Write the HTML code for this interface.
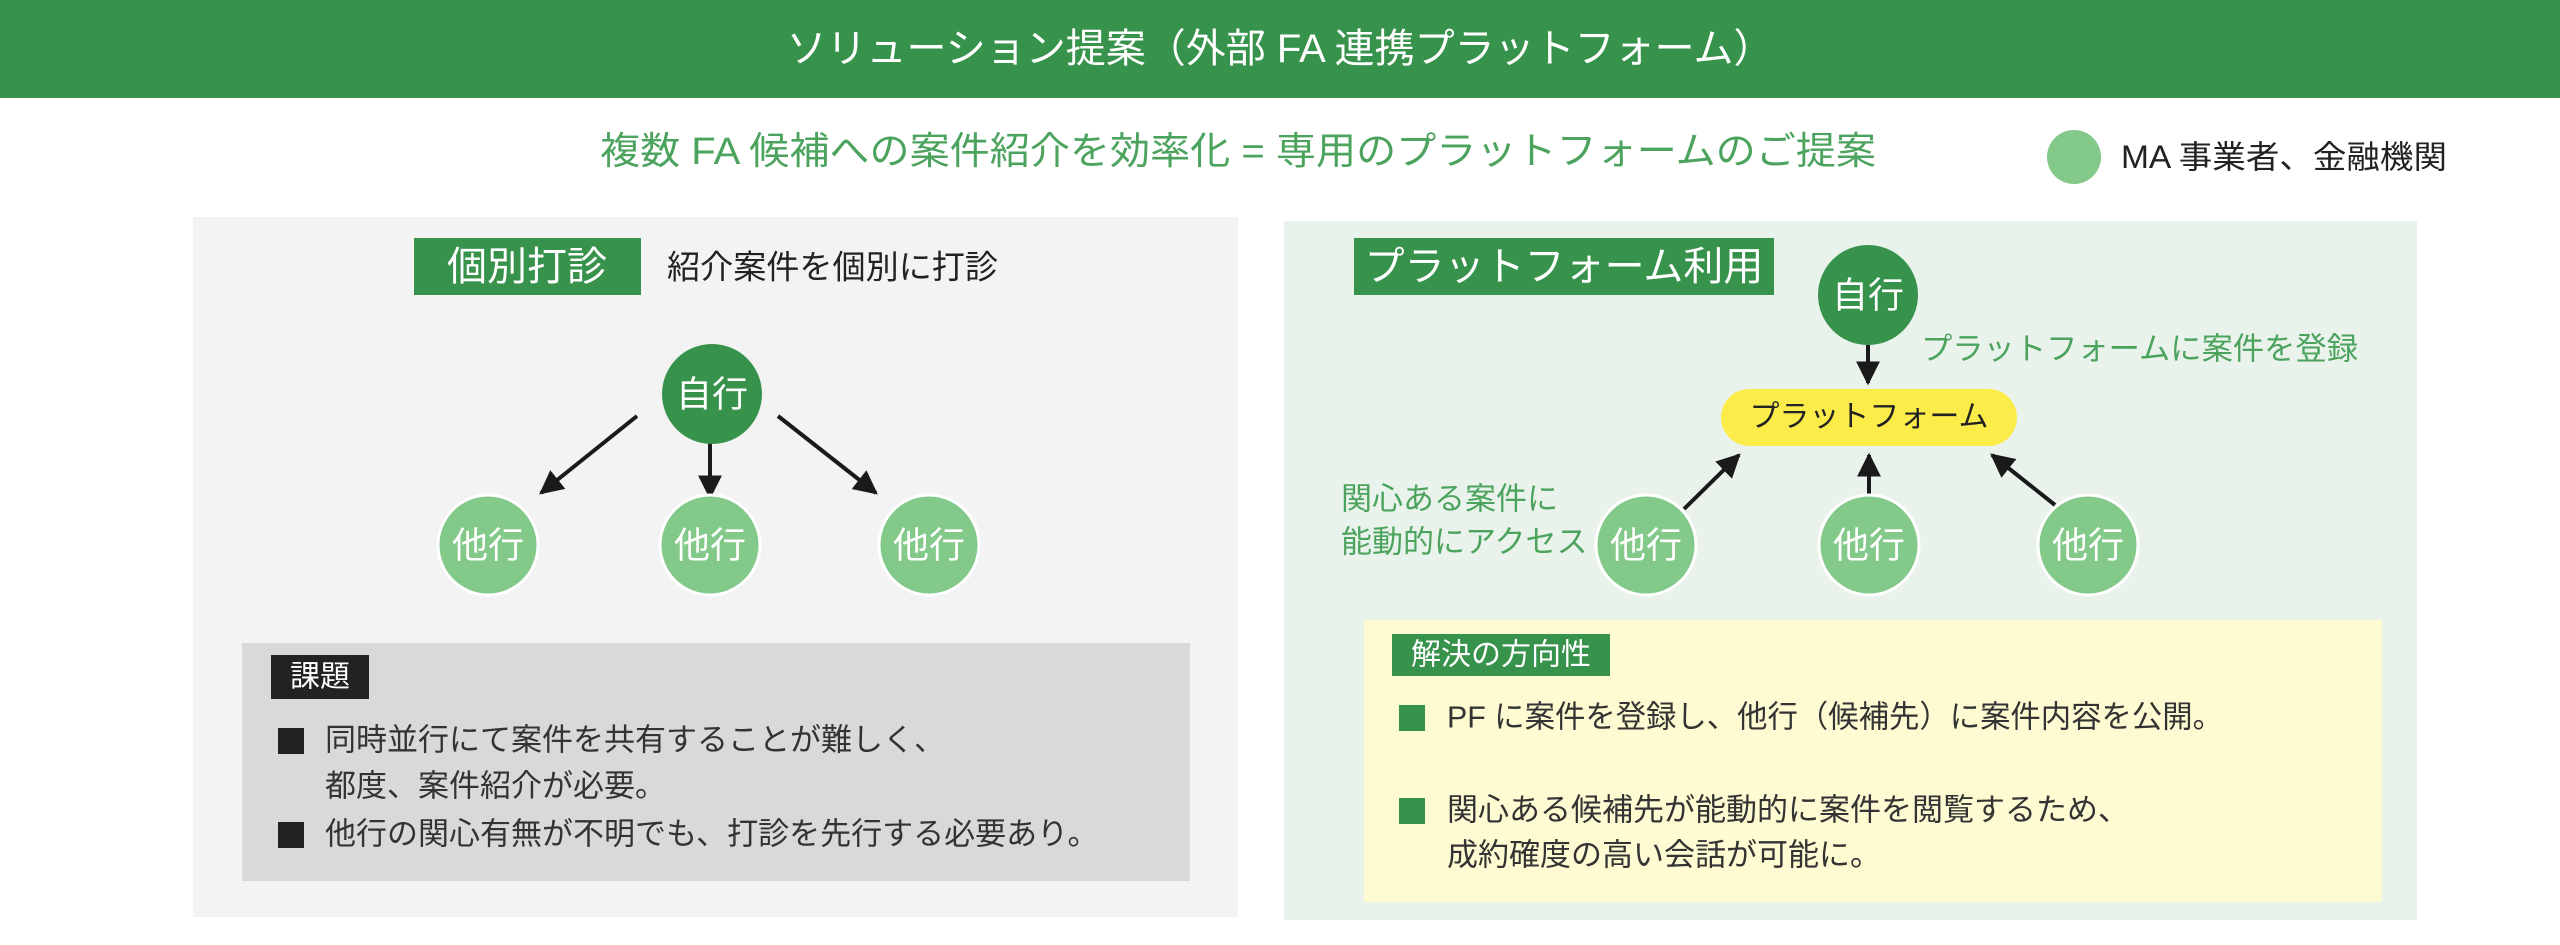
<!DOCTYPE html>
<html><head><meta charset="utf-8"><style>
html,body{margin:0;padding:0;background:#fff;}
svg{display:block;}
text{font-family:"Liberation Sans","Noto Sans CJK JP",sans-serif;dominant-baseline:central;}
</style></head><body>
<svg width="2560" height="945" viewBox="0 0 2560 945" xmlns="http://www.w3.org/2000/svg">
<defs>
<marker id="ah" viewBox="0 0 10 10" refX="9" refY="5" markerWidth="6" markerHeight="6" markerUnits="strokeWidth" orient="auto">
<path d="M0,0 L10,5 L0,10 z" fill="#1a1a1a"/></marker>
</defs>
<rect x="0" y="0" width="2560" height="98" fill="#37924b"/>
<text x="1280" y="49" font-size="40" fill="#fff" text-anchor="middle">ソリューション提案（外部 FA 連携プラットフォーム）</text>
<text x="600" y="152" font-size="38" fill="#4ca35e" textLength="1276" lengthAdjust="spacingAndGlyphs">複数 FA 候補への案件紹介を効率化 = 専用のプラットフォームのご提案</text>
<circle cx="2074" cy="157" r="27" fill="#82c98a"/>
<text x="2121" y="157" font-size="32" fill="#222" textLength="326" lengthAdjust="spacingAndGlyphs">MA 事業者、金融機関</text>

<!-- left panel -->
<rect x="193" y="217" width="1045" height="700" fill="#f3f3f3"/>
<rect x="414" y="238" width="227" height="57" fill="#37924b"/>
<text x="527" y="267" font-size="40" fill="#fff" text-anchor="middle">個別打診</text>
<text x="667" y="267" font-size="33" fill="#222" textLength="331" lengthAdjust="spacingAndGlyphs">紹介案件を個別に打診</text>
<line x1="637" y1="416" x2="541" y2="493" stroke="#1a1a1a" stroke-width="4" marker-end="url(#ah)"/>
<line x1="710" y1="443" x2="710" y2="497" stroke="#1a1a1a" stroke-width="4" marker-end="url(#ah)"/>
<line x1="778" y1="416" x2="876" y2="493" stroke="#1a1a1a" stroke-width="4" marker-end="url(#ah)"/>
<circle cx="712" cy="394" r="50" fill="#37924b"/>
<text x="712" y="394" font-size="36" fill="#fff" text-anchor="middle">自行</text>
<g fill="#82c98a" stroke="#fff" stroke-width="3">
<circle cx="488" cy="545" r="50"/><circle cx="710" cy="545" r="50"/><circle cx="929" cy="545" r="50"/></g>
<g font-size="36" fill="#fff" text-anchor="middle">
<text x="488" y="545">他行</text><text x="710" y="545">他行</text><text x="929" y="545">他行</text></g>
<rect x="242" y="643" width="948" height="238" fill="#d8d9da"/>
<rect x="271" y="655" width="98" height="44" fill="#222"/>
<text x="320" y="677" font-size="30" fill="#fff" text-anchor="middle">課題</text>
<rect x="278" y="728" width="26" height="26" fill="#222"/>
<rect x="278" y="822" width="26" height="26" fill="#222"/>
<g font-size="31" fill="#333">
<text x="325" y="740">同時並行にて案件を共有することが難しく、</text>
<text x="325" y="786">都度、案件紹介が必要。</text>
<text x="325" y="834">他行の関心有無が不明でも、打診を先行する必要あり。</text></g>

<!-- right panel -->
<rect x="1284" y="221" width="1133" height="699" fill="#eaf3eb"/>
<rect x="1354" y="238" width="420" height="57" fill="#37924b"/>
<text x="1564" y="267" font-size="40" fill="#fff" text-anchor="middle">プラットフォーム利用</text>
<line x1="1868" y1="345" x2="1868" y2="383" stroke="#1a1a1a" stroke-width="4" marker-end="url(#ah)"/>
<circle cx="1868" cy="295" r="50" fill="#37924b"/>
<text x="1868" y="295" font-size="36" fill="#fff" text-anchor="middle">自行</text>
<text x="1921" y="349" font-size="31" fill="#4ca35e" textLength="437" lengthAdjust="spacingAndGlyphs">プラットフォームに案件を登録</text>
<rect x="1721" y="389" width="296" height="57" rx="28.5" fill="#fcec4a"/>
<text x="1869" y="417" font-size="30" fill="#222" text-anchor="middle">プラットフォーム</text>
<line x1="1684" y1="509" x2="1739" y2="455" stroke="#1a1a1a" stroke-width="4" marker-end="url(#ah)"/>
<line x1="1869" y1="494" x2="1869" y2="455" stroke="#1a1a1a" stroke-width="4" marker-end="url(#ah)"/>
<line x1="2055" y1="505" x2="1992" y2="455" stroke="#1a1a1a" stroke-width="4" marker-end="url(#ah)"/>
<text x="1341" y="499" font-size="31" fill="#4ca35e">関心ある案件に</text>
<text x="1341" y="542" font-size="31" fill="#4ca35e">能動的にアクセス</text>
<g fill="#82c98a" stroke="#fff" stroke-width="3">
<circle cx="1646" cy="545" r="50"/><circle cx="1869" cy="545" r="50"/><circle cx="2088" cy="545" r="50"/></g>
<g font-size="36" fill="#fff" text-anchor="middle">
<text x="1646" y="545">他行</text><text x="1869" y="545">他行</text><text x="2088" y="545">他行</text></g>
<rect x="1364" y="620" width="1018" height="282" fill="#fefad2"/>
<rect x="1392" y="634" width="218" height="42" fill="#37924b"/>
<text x="1501" y="655" font-size="30" fill="#fff" text-anchor="middle">解決の方向性</text>
<rect x="1399" y="705" width="26" height="26" fill="#37924b"/>
<rect x="1399" y="798" width="26" height="26" fill="#37924b"/>
<g font-size="31" fill="#333">
<text x="1447" y="717" textLength="776" lengthAdjust="spacingAndGlyphs">PF に案件を登録し、他行（候補先）に案件内容を公開。</text>
<text x="1447" y="810">関心ある候補先が能動的に案件を閲覧するため、</text>
<text x="1447" y="855">成約確度の高い会話が可能に。</text></g>
</svg>
</body></html>
